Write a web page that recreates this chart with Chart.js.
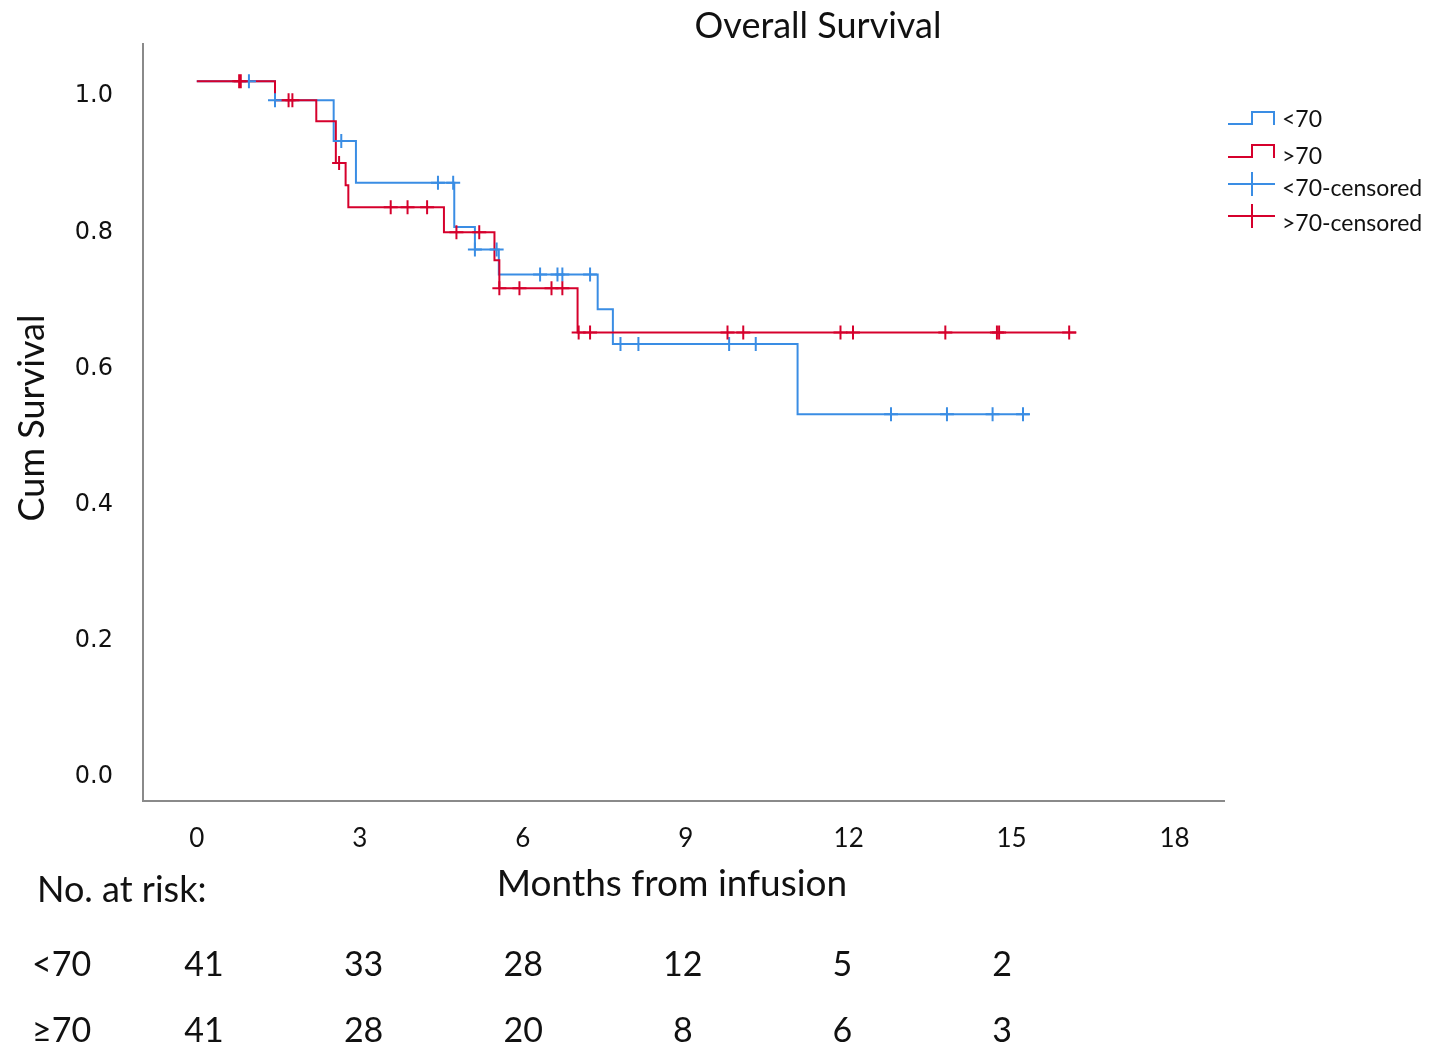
<!DOCTYPE html>
<html>
<head>
<meta charset="utf-8">
<title>Overall Survival</title>
<script src="https://cdn.jsdelivr.net/npm/chart.js@4.4.1/dist/chart.umd.min.js"></script>
<style>
    body { margin: 0; background: #fff; }
    #wrap { position: relative; width: 1440px; height: 1063px; }
</style>
</head>
<body>
<div id="wrap"><canvas id="kmChart"></canvas></div>
<script>
// Kaplan-Meier steps (months, cumulative survival)
const blueTimes = [0, 1.44, 2.52, 2.93, 4.74, 5.12, 5.56, 7.38, 7.66, 11.06, 15.33];
const blueSurv  = [1.0, 0.972, 0.912, 0.851, 0.786, 0.753, 0.716, 0.665, 0.614, 0.511, 0.511];

const redTimes = [0, 1.44, 2.20, 2.56, 2.74, 2.79, 4.55, 5.48, 5.57, 7.01, 16.19];
const redSurv  = [1.0, 0.972, 0.941, 0.880, 0.847, 0.815, 0.778, 0.737, 0.696, 0.631, 0.631];

// censored patients
const blueCensTimes = [0.96, 1.44, 2.66, 4.44, 4.72, 5.12, 5.52, 6.32, 6.64, 6.73, 7.24, 7.80, 8.13, 9.80, 10.29, 12.78, 13.81, 14.65, 15.21];
const blueCensSurv  = [1.0, 0.972, 0.912, 0.851, 0.851, 0.753, 0.753, 0.716, 0.716, 0.716, 0.716, 0.614, 0.614, 0.614, 0.614, 0.511, 0.511, 0.511, 0.511];

const redCensTimes = [0.78, 0.81, 1.69, 1.76, 2.62, 3.57, 3.88, 4.24, 4.78, 5.20, 5.57, 5.94, 6.53, 6.73, 7.03, 7.24, 9.77, 10.06, 11.85, 12.08, 13.78, 14.73, 14.77, 16.06];
const redCensSurv  = [1.0, 1.0, 0.972, 0.972, 0.880, 0.815, 0.815, 0.815, 0.778, 0.778, 0.696, 0.696, 0.696, 0.696, 0.631, 0.631, 0.631, 0.631, 0.631, 0.631, 0.631, 0.631, 0.631, 0.631];

// axis ticks and number at risk table
const xTicks = [0, 3, 6, 9, 12, 15, 18];
const yTicks = [0, 0.2, 0.4, 0.6, 0.8, 1.0];
const riskMonths = [0, 3, 6, 9, 12, 15];
const riskUnder70 = [41, 33, 28, 12, 5, 2];
const riskOver70 = [41, 28, 20, 8, 6, 3];

const BLUE = '#3a8de4';
const RED = '#d6002c';
const TXT = '#111';
const SANS = 'Lato, "Open Sans", sans-serif';

function toPoints(xs, ys) {
    return xs.map((x, i) => ({ x: x, y: ys[i] }));
}

// title, axis titles, legend and risk table
const extrasPlugin = {
    id: 'extras',
    afterDraw(chart) {
        const ctx = chart.ctx;
        ctx.save();
        ctx.fillStyle = TXT;
        ctx.textBaseline = 'middle';

        ctx.font = '36px ' + SANS;
        ctx.textAlign = 'center';
        ctx.fillText('Overall Survival', 818, 26);

        ctx.font = '37px ' + SANS;
        ctx.fillText('Months from infusion', 672, 884);

        ctx.save();
        ctx.translate(32, 418);
        ctx.rotate(-Math.PI / 2);
        ctx.font = '36px ' + SANS;
        ctx.fillText('Cum Survival', 0, 0);
        ctx.restore();

        // number at risk, columns sit a bit tighter than the ticks
        ctx.textAlign = 'left';
        ctx.font = '36px ' + SANS;
        ctx.fillText('No. at risk:', 37, 890);
        ctx.font = '34px ' + SANS;
        ctx.fillText('<70', 32, 965);
        ctx.fillText('\u226570', 32, 1031);
        ctx.textAlign = 'center';
        riskMonths.forEach((m, i) => {
            const px = 204 + i * 159.6;
            ctx.fillText(String(riskUnder70[i]), px, 965);
            ctx.fillText(String(riskOver70[i]), px, 1031);
        });

        // legend
        const lx = 1228, tx = 1282;
        ctx.lineWidth = 2;
        [[BLUE, 124, 112], [RED, 157, 145]].forEach(item => {
            ctx.strokeStyle = item[0];
            ctx.beginPath();
            ctx.moveTo(lx, item[1]);
            ctx.lineTo(lx + 24, item[1]);
            ctx.lineTo(lx + 24, item[2]);
            ctx.lineTo(lx + 46, item[2]);
            ctx.lineTo(lx + 46, item[1] + 1);
            ctx.stroke();
        });
        [[BLUE, 184], [RED, 216]].forEach(item => {
            ctx.strokeStyle = item[0];
            ctx.beginPath();
            ctx.moveTo(lx, item[1]);
            ctx.lineTo(lx + 47, item[1]);
            ctx.moveTo(lx + 24, item[1] - 12);
            ctx.lineTo(lx + 24, item[1] + 12);
            ctx.stroke();
        });
        ctx.textAlign = 'left';
        ctx.font = '23px ' + SANS;
        ctx.fillText('<70', tx, 120);
        ctx.fillText('>70', tx, 157);
        ctx.fillText('<70-censored', tx, 189);
        ctx.fillText('>70-censored', tx, 224);
        ctx.restore();
    }
};

const ctx = document.getElementById('kmChart').getContext('2d');
new Chart(ctx, {
    type: 'line',
    data: {
        datasets: [{
            label: '>70-censored',
            data: toPoints(redCensTimes, redCensSurv),
            showLine: false,
            pointStyle: 'cross',
            pointRadius: 7,
            pointBorderWidth: 2,
            pointBorderColor: RED,
            order: 0
        }, {
            label: '<70-censored',
            data: toPoints(blueCensTimes, blueCensSurv),
            showLine: false,
            pointStyle: 'cross',
            pointRadius: 7,
            pointBorderWidth: 2,
            pointBorderColor: BLUE,
            order: 1
        }, {
            label: '>70',
            data: toPoints(redTimes, redSurv),
            stepped: true,
            borderColor: RED,
            borderWidth: 2,
            pointRadius: 0,
            order: 2
        }, {
            label: '<70',
            data: toPoints(blueTimes, blueSurv),
            stepped: true,
            borderColor: BLUE,
            borderWidth: 2,
            pointRadius: 0,
            order: 3
        }]
    },
    options: {
        responsive: true,
        maintainAspectRatio: false,
        animation: false,
        layout: { padding: { top: 44, left: 0, right: 216, bottom: 0 } },
        plugins: {
            legend: { display: false },
            tooltip: { enabled: false },
            title: { display: false }
        },
        scales: {
            x: {
                type: 'linear',
                min: -0.99,
                max: 18.91,
                grid: { display: false, drawTicks: false },
                border: { display: true, color: '#8a8a8a', width: 2 },
                afterFit: scale => { scale.height = 262; },
                afterBuildTicks: scale => { scale.ticks = xTicks.map(v => ({ value: v })); },
                ticks: {
                    padding: 22,
                    color: TXT,
                    font: { family: SANS, size: 26 },
                    maxRotation: 0
                }
            },
            y: {
                type: 'linear',
                min: -0.057,
                max: 1.054,
                grid: { display: false, drawTicks: false },
                border: { display: true, color: '#8a8a8a', width: 2 },
                afterFit: scale => { scale.width = 143; },
                afterBuildTicks: scale => { scale.ticks = yTicks.map(v => ({ value: v })); },
                ticks: {
                    padding: 30,
                    labelOffset: 15,
                    color: TXT,
                    font: { family: '"DejaVu Sans", sans-serif', size: 24 },
                    callback: v => v.toFixed(1)
                }
            }
        }
    },
    plugins: [extrasPlugin]
});
</script>
</body>
</html>
